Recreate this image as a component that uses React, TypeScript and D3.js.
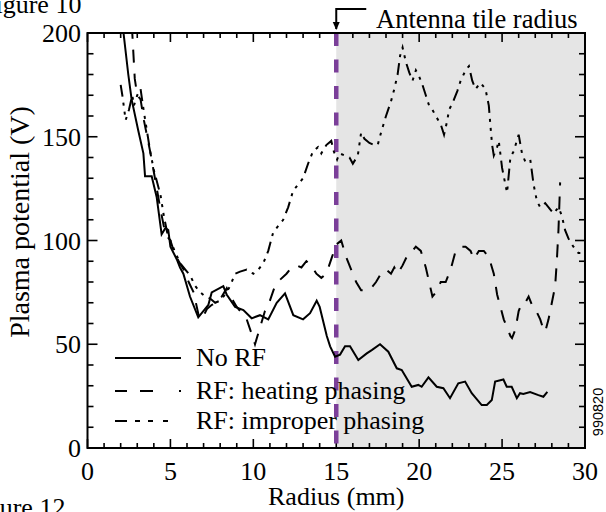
import React from 'react';
import * as d3 from 'd3';

const W = 606;
const H = 512;
const margin = { top: 33, left: 87.5, right: 21, bottom: 64 };

const xTicks = [0, 5, 10, 15, 20, 25, 30];
const yTicks = [0, 50, 100, 150, 200];
const antennaRadius = 15;

const seriesNames = ['No RF', 'RF: heating phasing', 'RF: improper phasing'];

// No RF
const noRfX = [2.1, 2.46, 2.66, 3.06, 3.37, 3.47, 3.87, 4.17, 4.47, 4.7, 4.87, 5.0, 5.38, 5.58, 5.78, 6.18, 6.68, 7.29, 7.49, 8.19, 8.39, 8.9, 9.4, 9.9, 10.4, 10.9, 11.41, 11.91, 12.41, 13.0, 13.42, 13.82, 14.0, 14.43, 14.63, 14.93, 15.23, 15.53, 15.83, 16.33, 16.84, 17.14, 17.64, 18.14, 18.65, 18.95, 19.55, 19.95, 20.15, 20.56, 21.06, 21.46, 21.86, 22.36, 22.77, 23.17, 23.77, 24.08, 24.38, 24.58, 25.08, 25.28, 25.58, 25.89, 26.08, 26.28, 26.69, 27.19, 27.49, 27.73];
const noRfY = [205, 180, 168, 153, 142, 131, 131, 121, 103, 106, 105, 97, 91, 87, 84, 73, 63, 69, 75, 78, 74, 68, 66.5, 62.5, 64, 62, 70, 74.5, 64, 62, 65, 71, 68, 54, 49, 44, 45, 49, 49, 42.4, 45.6, 47.2, 50, 46.4, 38.4, 37.6, 29.5, 30.4, 29.5, 34, 29.5, 28.8, 24, 31.2, 32, 26.4, 20.7, 20.7, 23.1, 32, 33, 29.5, 29.5, 24, 26.4, 26, 27, 25.5, 24.7, 27];

// RF: heating phasing
const heatX = [2.5, 2.7, 2.85, 3.0, 3.2, 3.4, 3.6, 3.8, 4.0, 4.2, 4.4, 4.6, 4.8, 5.0, 5.2, 5.5, 5.8, 6.1, 6.4, 6.7, 6.9, 7.2, 7.5, 7.8, 8.1, 8.4, 8.7, 9.0, 9.3, 9.6, 9.9, 10.1, 10.4, 10.7, 11.0, 11.3, 11.6, 12.0, 12.3, 12.6, 12.9, 13.2, 13.5, 13.8, 14.1, 14.4, 14.7, 15.0, 15.3, 15.6, 15.9, 16.2, 16.5, 16.8, 17.1, 17.4, 17.7, 18.0, 18.3, 18.5, 18.7, 19.0, 19.3, 19.6, 19.8, 20.1, 20.4, 20.6, 20.8, 21.1, 21.3, 21.6, 21.9, 22.2, 22.5, 22.8, 23.1, 23.3, 23.6, 23.9, 24.2, 24.5, 24.7, 24.9, 25.1, 25.3, 25.5, 25.6, 25.8, 26.0, 26.2, 26.4, 26.6, 26.8, 27.0, 27.3, 27.5, 27.6, 27.8, 28.0, 28.2, 28.3, 28.4, 28.5];
const heatY = [215, 200, 178, 170, 168, 158, 150, 142, 133, 124, 115, 107, 102, 100, 95, 90, 86, 80, 75, 64, 62, 67, 69, 70, 73, 77, 72, 68, 65, 62, 55, 50, 58, 66, 71, 78, 81, 84, 87, 88, 87, 90, 88, 84, 82, 84, 91, 98, 100, 92, 86, 80, 76, 76, 77, 80, 84, 86, 84, 87, 84, 88, 93, 95, 97, 95, 87, 80, 73, 76, 80, 80, 86, 95, 97, 97, 95, 91, 95, 95, 92, 84, 74, 68, 62, 58, 54, 53, 57, 66, 70, 70, 73, 69, 67, 62, 57, 56, 62, 70, 78, 90, 105, 128];

// RF: improper phasing
const impX = [2.0, 2.1, 2.3, 2.5, 2.7, 2.8, 3.0, 3.2, 3.4, 3.6, 3.8, 4.0, 4.2, 4.4, 4.6, 4.8, 5.0, 5.3, 5.6, 5.9, 6.2, 6.5, 6.8, 7.1, 7.4, 7.7, 8.0, 8.3, 8.6, 8.9, 9.2, 9.6, 10.0, 10.3, 10.6, 10.9, 11.2, 11.5, 11.8, 12.1, 12.4, 12.7, 13.0, 13.3, 13.6, 13.9, 14.1, 14.4, 14.7, 14.85, 15.05, 15.2, 15.5, 15.8, 16.0, 16.3, 16.5, 16.7, 17.0, 17.3, 17.5, 17.7, 18.0, 18.3, 18.5, 18.7, 18.85, 19.0, 19.2, 19.4, 19.6, 19.8, 20.0, 20.2, 20.4, 20.6, 20.8, 21.0, 21.3, 21.5, 21.7, 21.8, 22.0, 22.3, 22.5, 22.8, 23.0, 23.2, 23.4, 23.7, 24.0, 24.2, 24.3, 24.4, 24.5, 24.7, 24.8, 25.0, 25.2, 25.3, 25.5, 25.7, 26.0, 26.2, 26.4, 26.7, 26.9, 27.1, 27.3, 27.6, 27.9, 28.1, 28.4, 28.6, 28.8, 29.0, 29.3, 29.6, 29.9];
const impY = [175, 170, 158, 163, 170, 165, 170, 173, 162, 152, 142, 134, 128, 122, 112, 104, 100, 94, 89, 86, 83, 78, 75, 73, 72, 70, 71, 74, 78, 84, 85, 86, 84, 86, 89, 95, 104, 107, 110, 116, 124, 127, 130, 137, 143, 145, 142, 146, 148, 143, 139, 142, 141, 140, 137, 141, 152, 149, 147, 146, 146, 152, 160, 167, 173, 180, 189, 193, 186, 181, 177, 182, 179, 175, 170, 165, 163, 160, 156, 151, 158, 163, 166, 172, 177, 182, 184, 177, 173, 176, 173, 165, 155, 146, 141, 145, 148, 135, 127, 123, 140, 143, 151, 142, 138, 139, 127, 119, 116, 118, 115, 113, 116, 112, 105, 101, 97, 94, 94];

const dashes = ['none', '13 11', '12 6 3 6 3 6 3 6'];
const legendDashes = ['none', '12 13 13 26 2 100', '12 8 5 8 5 10 5 100'];

const serif = '"Liberation Serif", "Times New Roman", Times, serif';

export default function App() {
  const x = d3.scaleLinear().domain([0, 30]).range([margin.left, W - margin.right]);
  const y = d3.scaleLinear().domain([0, 200]).range([H - margin.bottom, margin.top]);
  const line = d3.line<[number, number]>().x(d => x(d[0])).y(d => y(d[1]));

  const series = [
    d3.zip(noRfX, noRfY) as [number, number][],
    d3.zip(heatX, heatY) as [number, number][],
    d3.zip(impX, impY) as [number, number][],
  ];

  const x0 = x(0), x1 = x(30), y0 = y(0), y1 = y(200);
  const xMinor = d3.range(0, 31, 1);
  const yMinor = d3.range(0, 201, 10);

  return (
    <div style={{ position: 'absolute', left: 0, top: 0 }}>
      <svg width={W} height={H} style={{ display: 'block', background: '#fff' }} fontFamily={serif}>
        <defs>
          <clipPath id="plot-clip">
            <rect x={x0} y={y1} width={x1 - x0} height={y0 - y1} />
          </clipPath>
        </defs>

        {/* shaded region beyond antenna tile */}
        <rect x={x(antennaRadius)} y={y1} width={x1 - x(antennaRadius)} height={y0 - y1} fill="#e5e5e5" />

        {/* ticks, inward on all four sides */}
        <g stroke="#000" strokeWidth={1.6}>
          {xMinor.map(v => {
            const len = v % 5 === 0 ? 9 : 5;
            return (
              <g key={'xt' + v}>
                <line x1={x(v)} x2={x(v)} y1={y0} y2={y0 - len} />
                <line x1={x(v)} x2={x(v)} y1={y1} y2={y1 + len} />
              </g>
            );
          })}
          {yMinor.map(v => {
            const len = v % 50 === 0 ? 10 : 6;
            return (
              <g key={'yt' + v}>
                <line x1={x0} x2={x0 + len} y1={y(v)} y2={y(v)} />
                <line x1={x1} x2={x1 - len} y1={y(v)} y2={y(v)} />
              </g>
            );
          })}
        </g>

        {/* antenna tile radius marker */}
        <line x1={x(antennaRadius)} x2={x(antennaRadius)} y1={y1} y2={y0}
          stroke="#7b3f99" strokeWidth={4.5} strokeDasharray="13 13.5" />

        {/* data */}
        <g clipPath="url(#plot-clip)" fill="none" stroke="#000" strokeWidth={2}>
          {series.map((s, i) => (
            <path key={seriesNames[i]} d={line(s) || ''} strokeDasharray={dashes[i]} />
          ))}
        </g>

        {/* frame */}
        <rect x={x0} y={y1} width={x1 - x0} height={y0 - y1} fill="none" stroke="#000" strokeWidth={2} />

        {/* tick labels */}
        <g fontSize={26} fill="#000">
          {xTicks.map(v => (
            <text key={'xl' + v} x={x(v)} y={480} textAnchor="middle">{v}</text>
          ))}
          {yTicks.map(v => (
            <text key={'yl' + v} x={81} y={y(v) + 9} textAnchor="end">{v}</text>
          ))}
        </g>

        <text x={(x0 + x1) / 2} y={505} fontSize={26} textAnchor="middle">Radius (mm)</text>
        <text transform={`translate(29,222) rotate(-90)`} fontSize={28} textAnchor="middle">
          Plasma potential (V)
        </text>

        {/* legend */}
        <g fontSize={26}>
          {seriesNames.map((name, i) => {
            const ly = [358, 391, 421][i];
            return (
              <g key={'lg' + name}>
                <line x1={115} x2={181} y1={ly} y2={ly} stroke="#000" strokeWidth={2} strokeDasharray={legendDashes[i]} />
                <text x={196} y={ly + 8}>{name}</text>
              </g>
            );
          })}
        </g>

        {/* annotation */}
        <path d={`M${x(antennaRadius)},29 L${x(antennaRadius)},9 L${x(antennaRadius) + 30},9`} fill="none" stroke="#000" strokeWidth={2} />
        <path d={`M${x(antennaRadius) - 3.5},22 L${x(antennaRadius) + 3.5},22 L${x(antennaRadius)},30 Z`} fill="#000" />
        <text x={376} y={28} fontSize={26.5}>Antenna tile radius</text>

        <text x={-19} y={13} fontSize={26}>Figure 10</text>
        <text x={-35} y={516} fontSize={26}>Figure 12</text>
        <text transform="translate(603,412) rotate(-90)" fontSize={14.5} textAnchor="middle"
          fontFamily='"Liberation Sans", Arial, sans-serif'>990820</text>
      </svg>
    </div>
  );
}
